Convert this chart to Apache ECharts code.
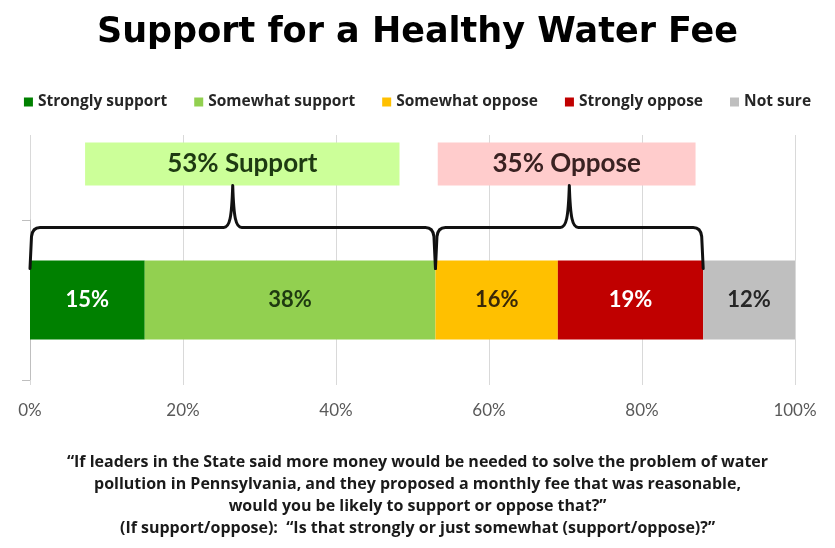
<!DOCTYPE html>
<html>
<head>
<meta charset="utf-8">
<script src="https://cdn.jsdelivr.net/npm/echarts@6/dist/echarts.min.js"></script>
<style>
  html, body { margin: 0; padding: 0; background: #ffffff; }
  #chart { width: 835px; height: 548px; }
</style>
</head>
<body>
<div id="chart"></div>
<script>
// Survey responses for the water fee question (percent of respondents)
const category = ['Healthy Water Fee'];
const responseNames = ['Strongly support', 'Somewhat support', 'Somewhat oppose', 'Strongly oppose', 'Not sure'];
const responseValues = [15, 38, 16, 19, 12];
const groupNames = ['Support', 'Oppose'];
const groupMembers = [[0, 1], [2, 3]];
const axisTicks = { min: 0, max: 100, interval: 20 };
const questionLines = [
  '\u201cIf leaders in the State said more money would be needed to solve the problem of water',
  'pollution in Pennsylvania, and they proposed a monthly fee that was reasonable,',
  'would you be likely to support or oppose that?\u201d',
  '(If support/oppose):  \u201cIs that strongly or just somewhat (support/oppose)?\u201d'
];

const barColors = ['#008000', '#92d050', '#ffc000', '#c00000', '#bfbfbf'];
const labelColors = ['#ffffff', '#1e3a10', '#3a2808', '#ffffff', '#262626'];
const boxColors = ['#ccff99', '#ffcccc'];
const boxTextColors = ['#1e3a12', '#3a2222'];
const boxSpans = [[7.2, 48.3], [53.3, 87.0]];
const FONT = 'Lato';

// cumulative edges of each group along the stacked bar
const cumulative = [];
responseValues.reduce((acc, v, i) => { cumulative[i] = acc; return acc + v; }, 0);
const groupData = groupMembers.map((m, gi) => {
  const start = cumulative[m[0]];
  const total = m.reduce((s, i) => s + responseValues[i], 0);
  return [start, start + total, boxSpans[gi][0], boxSpans[gi][1], gi, total];
});

const barHeight = 79;

function renderBrace(params, api) {
  const gi = api.value(4);
  const x0 = api.coord([api.value(0), 0])[0];
  const x1 = api.coord([api.value(1), 0])[0];
  const cy = api.coord([0, 0])[1];
  const bx0 = api.coord([api.value(2), 0])[0];
  const bx1 = api.coord([api.value(3), 0])[0];
  const barTop = cy - barHeight / 2;
  const yEnd = barTop + 8;
  const yH = barTop - 33;
  const yPeak = barTop - 75;
  const boxTop = barTop - 118;
  const xc = (x0 + x1) / 2;
  const d = [
    'M', x0, yEnd,
    'L', x0 + 1.5, yH + 9,
    'Q', x0 + 2.5, yH, x0 + 10, yH,
    'L', xc - 9, yH,
    'C', xc - 3, yH, xc - 1, yH - 10, xc, yPeak,
    'C', xc + 1, yH - 10, xc + 3, yH, xc + 9, yH,
    'L', x1 - 10, yH,
    'Q', x1 - 2.5, yH, x1 - 1.5, yH + 9,
    'L', x1, yEnd
  ].join(' ');
  return {
    type: 'group',
    children: [
      {
        type: 'rect',
        shape: { x: bx0, y: boxTop, width: bx1 - bx0, height: yPeak - boxTop },
        style: { fill: boxColors[gi] }
      },
      {
        type: 'text',
        x: (bx0 + bx1) / 2,
        y: (boxTop + yPeak) / 2,
        style: {
          text: api.value(5) + '% ' + groupNames[gi],
          fill: boxTextColors[gi],
          font: 'bold 26px ' + FONT,
          align: 'center',
          verticalAlign: 'middle'
        }
      },
      {
        type: 'path',
        shape: { pathData: d },
        style: { fill: 'none', stroke: '#111111', lineWidth: 3, lineJoin: 'round', lineCap: 'round' }
      }
    ]
  };
}

const chart = echarts.init(document.getElementById('chart'), null, { renderer: 'canvas' });

chart.setOption({
  backgroundColor: '#ffffff',
  animation: false,
  title: {
    text: 'Support for a Healthy Water Fee',
    left: 'center',
    top: 10,
    textStyle: { fontFamily: 'DejaVu Sans', fontWeight: 'bold', fontSize: 35, color: '#000000' }
  },
  graphic: [{
    type: 'text',
    x: 417.5,
    y: 451,
    style: {
      text: questionLines.join('\n'),
      align: 'center',
      verticalAlign: 'top',
      font: 'bold 16px "Open Sans"',
      lineHeight: 22,
      fill: '#1a1a1a'
    }
  }],
  legend: {
    data: responseNames,
    top: 89,
    left: 'center',
    icon: 'rect',
    itemWidth: 9,
    itemHeight: 9,
    itemGap: 27,
    textStyle: { fontFamily: 'Open Sans', fontWeight: 'bold', fontSize: 15.5, color: '#262626' }
  },
  grid: [
    { left: 30, right: 40, top: 135, bottom: 168 },
    { left: 30, right: 40, top: 220, bottom: 168 }
  ],
  xAxis: [
    {
      gridIndex: 0,
      type: 'value',
      min: axisTicks.min,
      max: axisTicks.max,
      interval: axisTicks.interval,
      axisLine: { show: false },
      axisTick: { show: true, length: 5, lineStyle: { color: '#d9d9d9' } },
      splitLine: { show: true, lineStyle: { color: '#d9d9d9', width: 1 } },
      axisLabel: { formatter: '{value}%', margin: 22, fontFamily: FONT, fontSize: 17, color: '#595959' }
    },
    {
      gridIndex: 1,
      type: 'value',
      min: axisTicks.min,
      max: axisTicks.max,
      show: false
    }
  ],
  yAxis: [
    { gridIndex: 0, type: 'category', data: category, show: false },
    {
      gridIndex: 1,
      type: 'category',
      data: category,
      axisLine: { show: true, lineStyle: { color: '#bfbfbf' } },
      axisTick: { show: true, length: 8, lineStyle: { color: '#bfbfbf' } },
      axisLabel: { show: false }
    }
  ],
  series: responseNames.map((name, i) => ({
    name: name,
    type: 'bar',
    stack: 'total',
    xAxisIndex: 1,
    yAxisIndex: 1,
    barWidth: barHeight,
    itemStyle: { color: barColors[i] },
    label: {
      show: true,
      position: 'inside',
      formatter: '{c}%',
      fontFamily: FONT,
      fontWeight: 'bold',
      fontSize: 22,
      color: labelColors[i]
    },
    data: [responseValues[i]]
  })).concat([{
    type: 'custom',
    xAxisIndex: 1,
    yAxisIndex: 1,
    clip: false,
    z: 5,
    silent: true,
    renderItem: renderBrace,
    data: groupData
  }])
});
</script>
</body>
</html>
